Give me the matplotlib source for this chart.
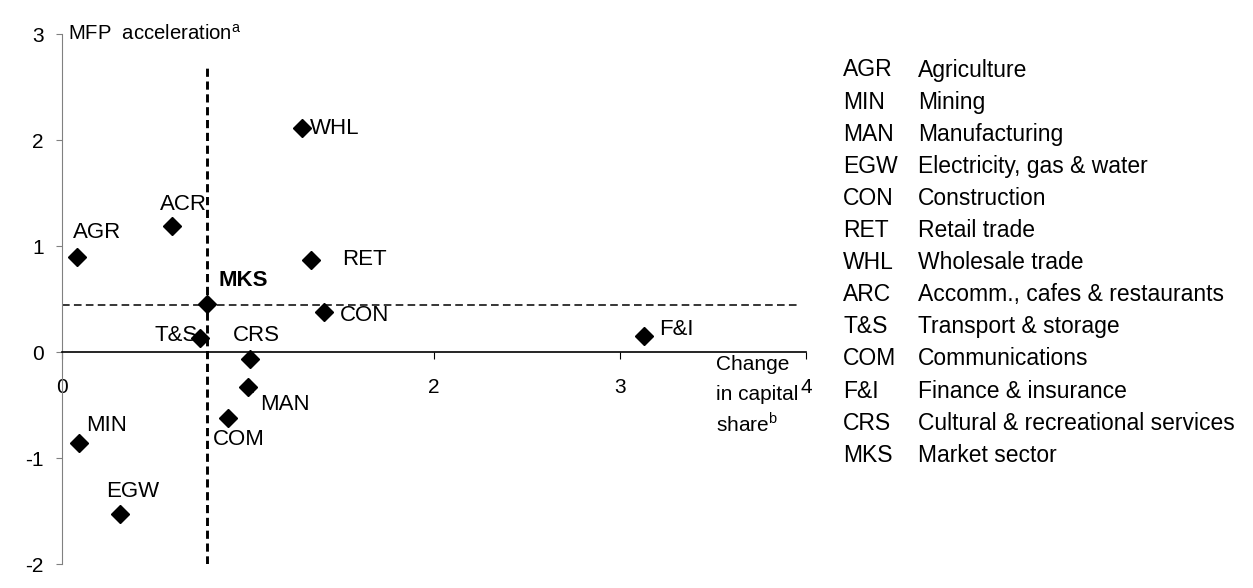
import matplotlib
matplotlib.use("Agg")
import matplotlib.pyplot as plt

plt.rcParams['font.family'] = ['Liberation Sans', 'DejaVu Sans']
plt.rcParams['mathtext.fontset'] = 'custom'
plt.rcParams['mathtext.rm'] = 'Liberation Sans'
plt.rcParams['axes.unicode_minus'] = False

# sector points: change in capital share (x) vs MFP acceleration (y)
codes = ["AGR", "MIN", "EGW", "ACR", "T&S", "MKS", "WHL", "RET", "CON", "CRS", "MAN", "COM", "F&I"]
cap_share = [0.08, 0.09, 0.31, 0.59, 0.74, 0.78, 1.29, 1.34, 1.41, 1.01, 1.00, 0.89, 3.13]
mfp_accel = [0.90, -0.86, -1.53, 1.19, 0.13, 0.45, 2.11, 0.87, 0.38, -0.07, -0.33, -0.62, 0.15]
# label offsets in pixels (dx, dy) and alignment
label_off = [(-4, 24), (7, 18), (-14, 23), (-12, 21), (-2, 3), (11, 24), (8, 0), (31, 0),
             (16, -4), (-17, 24), (12, -18), (-15, -22), (15, 7)]
label_ha = ["left", "left", "left", "left", "right", "left", "left", "left",
            "left", "left", "left", "left", "left"]

mks_x = 0.78
mks_y = 0.44

legend_codes = ["AGR", "MIN", "MAN", "EGW", "CON", "RET", "WHL", "ARC", "T&S", "COM", "F&I", "CRS", "MKS"]
legend_names = ["Agriculture", "Mining", "Manufacturing", "Electricity, gas & water", "Construction",
                "Retail trade", "Wholesale trade", "Accomm., cafes & restaurants", "Transport & storage",
                "Communications", "Finance & insurance", "Cultural & recreational services", "Market sector"]

fig = plt.figure(figsize=(12.53, 5.88), dpi=100)
ax = fig.add_axes([62 / 1253, 24 / 588, 744 / 1253, 530 / 588])

ax.set_xlim(0, 4)
ax.set_ylim(-2, 3)
ax.spines['top'].set_visible(False)
ax.spines['right'].set_visible(False)
ax.spines['bottom'].set_position(('data', 0))
ax.spines['left'].set_color('#808080')
ax.spines['bottom'].set_linewidth(1.2)
ax.set_xticks([0, 1, 2, 3, 4])
ax.set_yticks([-2, -1, 0, 1, 2, 3])
ax.tick_params(axis='x', direction='out', length=5, pad=14, labelsize=15)
ax.tick_params(axis='y', direction='out', length=4, pad=9, labelsize=15, color='#808080')

# market sector reference lines
ax.plot([mks_x, mks_x], [-2, 2.68], color='black', lw=2.1, ls=(0, (2.8, 1.6)), zorder=2)
ax.plot([0, 3.95], [mks_y, mks_y], color='black', lw=1.1, ls=(0, (5, 2.8)), zorder=2)

ax.plot(cap_share, mfp_accel, 'D', color='black', ms=9, zorder=4, clip_on=False)

for c, x, y, off, ha in zip(codes, cap_share, mfp_accel, label_off, label_ha):
    ax.annotate(c, (x, y), xytext=off, textcoords='offset pixels', ha=ha, va='center',
                fontsize=16, fontweight='bold' if c == "MKS" else 'normal', zorder=5)

ax.annotate(r"MFP  acceleration$^{\mathrm{a}}$", (0, 3), xytext=(6, 0), textcoords='offset pixels',
            ha='left', va='center', fontsize=14.6)
for i, s in enumerate(["Change", "in capital", "share$^{\\mathrm{b}}$"]):
    ax.annotate(s, (3.5, 0), xytext=(3, -13 - 29.5 * i), textcoords='offset pixels',
                ha='left', va='center', fontsize=15)

y0 = 518
for i, (c, n) in enumerate(zip(legend_codes, legend_names)):
    yy = (y0 - i * 32.1) / 588
    fig.text(843 / 1253, yy, c, ha='left', va='center', fontsize=16.5)
    fig.text(918 / 1253, yy, n, ha='left', va='center', fontsize=16.5)

fig.savefig("out.png", dpi=100)
